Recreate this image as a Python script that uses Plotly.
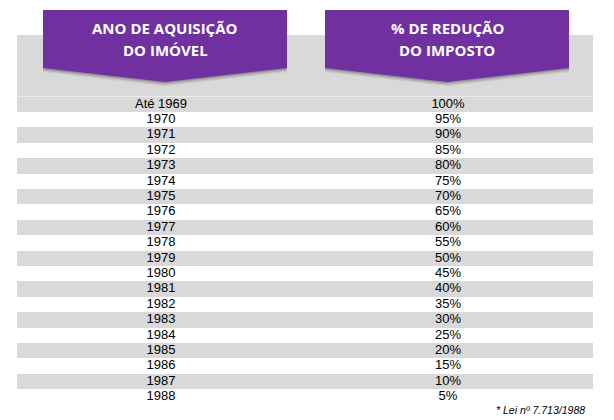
import plotly.graph_objects as go

# table content
anos = ["Até 1969"] + [str(a) for a in range(1970, 1989)]
reducao = ["100%", "95%", "90%", "85%", "80%", "75%", "70%", "65%", "60%", "55%",
           "50%", "45%", "40%", "35%", "30%", "25%", "20%", "15%", "10%", "5%"]
cabecalho_ano = ["ANO DE AQUISIÇÃO", "DO IMÓVEL"]
cabecalho_red = ["% DE REDUÇÃO", "DO IMPOSTO"]
nota = "* Lei nº 7.713/1988"

W, H = 614, 420
OFF = 8                          # page body margin around the plot div
ROW0_PX, ROW_PX = 104.3, 15.4    # pixel centre of first row and row pitch
COL_X = [161, 448]               # column centres (px)
BAND_L, BAND_R = 17, 593
PURPLE = "#7030a0"
GRAY = "#d9d9d9"

rows = list(range(len(anos)))
faixas = [i for i in rows if i % 2 == 0]

fig = go.Figure()

# zebra stripes
fig.add_trace(go.Bar(
    y=faixas, x=[BAND_R - BAND_L] * len(faixas), base=BAND_L,
    orientation="h", width=1, marker=dict(color=GRAY, line=dict(width=0)),
    hoverinfo="skip", showlegend=False,
))

body_font = dict(family="Arial, Liberation Sans, sans-serif", size=13, color="#000")
fig.add_trace(go.Scatter(x=[COL_X[0]] * len(anos), y=rows, text=anos, mode="text",
                         textfont=body_font, showlegend=False, hoverinfo="skip"))
fig.add_trace(go.Scatter(x=[COL_X[1]] * len(reducao), y=rows, text=reducao, mode="text",
                         textfont=body_font, showlegend=False, hoverinfo="skip"))

PH = H - OFF


def py(px):
    return 1 - (px - OFF) / PH


# gray header block behind the banners
fig.add_shape(type="rect", xref="x", yref="paper", x0=BAND_L, x1=BAND_R,
              y0=py(ROW0_PX - ROW_PX / 2), y1=py(35), fillcolor=GRAY,
              line=dict(width=0), layer="below")


def banner(x0, x1, top, side, tip, dy=0.0):
    xm = (x0 + x1) / 2
    pts = [(x0, top + dy), (x1, top + dy), (x1, side + dy), (xm, tip + dy), (x0, side + dy)]
    return "M " + " L ".join(f"{x},{py(y)}" for x, y in pts) + " Z"


for (x0, x1), linhas in zip([(43, 287), (325, 569)], [cabecalho_ano, cabecalho_red]):
    # soft shadow
    for dy, op in [(4, 0.12), (2.5, 0.18), (1.2, 0.25)]:
        fig.add_shape(type="path", xref="x", yref="paper",
                      path=banner(x0, x1, 12, 68, 82, dy), fillcolor="#404040",
                      opacity=op, line=dict(width=0))
    fig.add_shape(type="path", xref="x", yref="paper",
                  path=banner(x0, x1, 10, 68, 82), fillcolor=PURPLE,
                  line=dict(width=0))
    for k, txt in enumerate(linhas):
        fig.add_annotation(x=(x0 + x1) / 2, xref="x", y=py(28 + 21.5 * k), yref="paper",
                           yanchor="middle", text=f"<b>{txt}</b>", showarrow=False,
                           font=dict(family="Open Sans, sans-serif", size=15, color="white"))

fig.add_annotation(x=587, xref="x", y=py(410), yref="paper", xanchor="right",
                   yanchor="middle", text=f"<i>{nota}</i>", showarrow=False,
                   font=dict(family="Arial, Liberation Sans, sans-serif", size=10.5, color="#000"))

fig.update_layout(
    width=W - OFF, height=H - OFF, margin=dict(l=0, r=0, t=0, b=0),
    paper_bgcolor="white", plot_bgcolor="white", bargap=0,
    xaxis=dict(range=[OFF, W], visible=False, fixedrange=True),
    yaxis=dict(range=[(H - ROW0_PX) / ROW_PX, -(ROW0_PX - OFF) / ROW_PX],
               visible=False, fixedrange=True),
)

fig.write_html("out.html")
